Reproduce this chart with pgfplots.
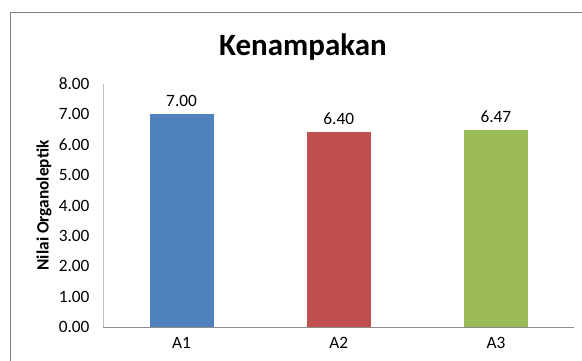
\documentclass[border=0pt]{standalone}
\usepackage{pgfplots}
\pgfplotsset{compat=1.18}
\usepackage{fontspec}
\setmainfont{Carlito}
\definecolor{cblue}{HTML}{4F81BD}
\definecolor{cred}{HTML}{C0504D}
\definecolor{cgreen}{HTML}{9BBB59}
\begin{document}
\begin{tikzpicture}[x=1pt,y=1pt]
\path[use as bounding box] (0,0) rectangle (582,361);
\begin{scope}
\clip (0,0) rectangle (582,361);
\draw[color=black!50, line width=1.3pt] (10.5,-20) -- (10.5,348.5) -- (600,348.5);
\end{scope}
\node[font=\bfseries\fontsize{31}{36}\selectfont] at (303,314) {Kenampakan};
\begin{axis}[
  at={(103pt,34pt)}, anchor=south west,
  scale only axis, width=471.5pt, height=243pt,
  ymin=0, ymax=8, ytick={0,1,...,8},
  xmin=-0.5, xmax=2.5, xtick={0,1,2}, xticklabels={A1,A2,A3},
  axis x line*=bottom, axis y line*=left,
  x axis line style={-, draw=black!45, line width=0.9pt},
  y axis line style={-, draw=black!25, line width=0.9pt},
  major tick length=0pt,
  /pgf/number format/assume math mode=true,
  yticklabel style={/pgf/number format/fixed, /pgf/number format/fixed zerofill, /pgf/number format/precision=2, font=\fontsize{17.3}{20}\selectfont, xshift=-10pt},
  xticklabel style={font=\fontsize{17.3}{20}\selectfont, yshift=-7pt},
  ylabel={Nilai Organoleptik},
  ylabel style={at={(axis description cs:-0.125,0.5)}, anchor=center, font=\bfseries\fontsize{17.3}{20}\selectfont},
  ybar, bar width=63pt, bar shift=0pt,
  nodes near coords,
  every node near coord/.append style={font=\fontsize{17.3}{20}\selectfont, /pgf/number format/fixed, /pgf/number format/fixed zerofill, /pgf/number format/precision=2, /pgf/number format/assume math mode=true, yshift=4.5pt, black},
]
\addplot[fill=cblue, draw=cblue] coordinates {(0,7.00)};
\addplot[fill=cred, draw=cred] coordinates {(1,6.40)};
\addplot[fill=cgreen, draw=cgreen] coordinates {(2,6.47)};
\end{axis}
\end{tikzpicture}
\end{document}
